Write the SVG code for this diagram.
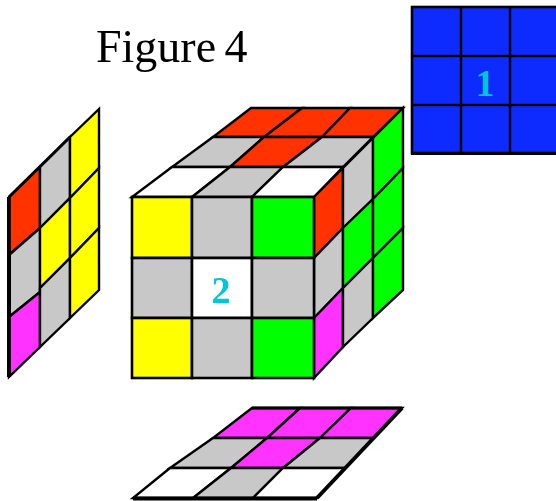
<svg xmlns="http://www.w3.org/2000/svg" width="556" height="501" viewBox="0 0 556 501">
<defs><filter id="soft" x="-5%" y="-5%" width="110%" height="110%"><feGaussianBlur stdDeviation="0.55"/></filter></defs>
<style>
polygon{stroke:#000;stroke-width:2.4;stroke-linejoin:miter}
rect.c{stroke:#000;stroke-width:2.6}
.r{fill:#ff3300}.g{fill:#c8c8c8}.w{fill:#fff}.y{fill:#ffff00}.n{fill:#00ff00}.m{fill:#ff33ff}.b{fill:#0a2cff}
line{stroke:#000}
text{font-family:"Liberation Serif","Times New Roman",serif}
.num{font-size:38px;fill:#00c4d8;text-anchor:middle;font-weight:bold}
</style>
<rect width="556" height="501" fill="#fff"/>
<g filter="url(#soft)">
<g id="title"><text x="96" y="62" font-size="46" fill="#000" word-spacing="-3">Figure 4</text></g>
<g id="face-blue">
<rect class="b c" x="412" y="7" width="150" height="146"/>
<line x1="461" y1="7" x2="461" y2="153" stroke-width="2.400"/><line x1="510" y1="7" x2="510" y2="153" stroke-width="2.400"/>
<line x1="412" y1="56" x2="556" y2="56" stroke-width="2.400"/><line x1="412" y1="105" x2="556" y2="105" stroke-width="2.400"/>
<line x1="411" y1="153.500" x2="556" y2="153.500" stroke-width="3"/>
<text class="num" x="485" y="96">1</text>
</g>
<g id="face-left">
<polygon class="r" points="9,197 40,167 40,228 9,255"/>
<polygon class="g" points="40,167 70,137 70,198 40,228"/>
<polygon class="y" points="70,137 99,109 99,168 70,198"/>
<polygon class="g" points="9,255 40,228 40,292 9,317"/>
<polygon class="y" points="40,228 70,198 70,258 40,288"/>
<polygon class="y" points="70,198 99,168 99,228 70,258"/>
<polygon class="m" points="9,317 40,292 40,347 9,377"/>
<polygon class="g" points="40,288 70,258 70,318 40,347"/>
<polygon class="y" points="70,258 99,228 99,290 70,318"/>
<line x1="9" y1="197" x2="9" y2="377" stroke-width="4"/>
<line x1="9" y1="197" x2="70" y2="137" stroke-width="3"/>
</g>
<g id="cube">
<g id="cube-top">
<polygon class="r" points="251,108 302,108 264,137 213,137"/>
<polygon class="r" points="302,108 350,108 322,137 264,137"/>
<polygon class="r" points="350,108 403,108 373,137 322,137"/>
<polygon class="g" points="213,137 264,137 230,167 172,167"/>
<polygon class="r" points="264,137 322,137 283,167 230,167"/>
<polygon class="g" points="322,137 373,137 343,167 283,167"/>
<polygon class="w" points="172,167 230,167 192,197 132,197"/>
<polygon class="g" points="230,167 283,167 252,197 192,197"/>
<polygon class="w" points="283,167 343,167 314,197 252,197"/>
</g>
<g id="cube-right">
<polygon class="r" points="314,197 343,168 343,228 314,258"/>
<polygon class="g" points="343,168 373,138 373,199 343,228"/>
<polygon class="n" points="373,138 403,108 403,168 373,199"/>
<polygon class="g" points="314,258 343,228 343,288 314,318"/>
<polygon class="n" points="343,228 373,199 373,258 343,288"/>
<polygon class="n" points="373,199 403,168 403,228 373,258"/>
<polygon class="m" points="314,318 343,288 343,347 314,378"/>
<polygon class="g" points="343,288 373,258 373,318 343,347"/>
<polygon class="n" points="373,258 403,228 403,290 373,318"/>
</g>
<g id="cube-front">
<rect class="y c" x="132" y="197" width="60" height="61"/>
<rect class="g c" x="192" y="197" width="60" height="61"/>
<rect class="n c" x="252" y="197" width="62" height="61"/>
<rect class="g c" x="132" y="258" width="60" height="60"/>
<rect class="w c" x="192" y="258" width="60" height="60"/>
<rect class="g c" x="252" y="258" width="62" height="60"/>
<rect class="y c" x="132" y="318" width="60" height="60"/>
<rect class="g c" x="192" y="318" width="60" height="60"/>
<rect class="n c" x="252" y="318" width="62" height="60"/>
<text class="num" x="221" y="303">2</text>
</g>
</g>
<g id="face-bottom">
<polygon class="m" points="252,408 300,408 267,438 213,438"/>
<polygon class="m" points="300,408 351,408 320,438 267,438"/>
<polygon class="m" points="351,408 402,408 373,438 320,438"/>
<polygon class="g" points="213,438 267,438 231,468 170,468"/>
<polygon class="m" points="267,438 320,438 283,468 231,468"/>
<polygon class="g" points="320,438 373,438 345,468 283,468"/>
<polygon class="w" points="170,468 231,468 193,498 133,498"/>
<polygon class="g" points="231,468 283,468 253,498 193,498"/>
<polygon class="w" points="283,468 345,468 317,498 253,498"/>
<line x1="133" y1="498.500" x2="317" y2="498.500" stroke-width="4"/>
<line x1="317" y1="498" x2="402" y2="408" stroke-width="4"/>
<line x1="252" y1="408" x2="402" y2="408" stroke-width="3"/>
</g>
</g>
</svg>
